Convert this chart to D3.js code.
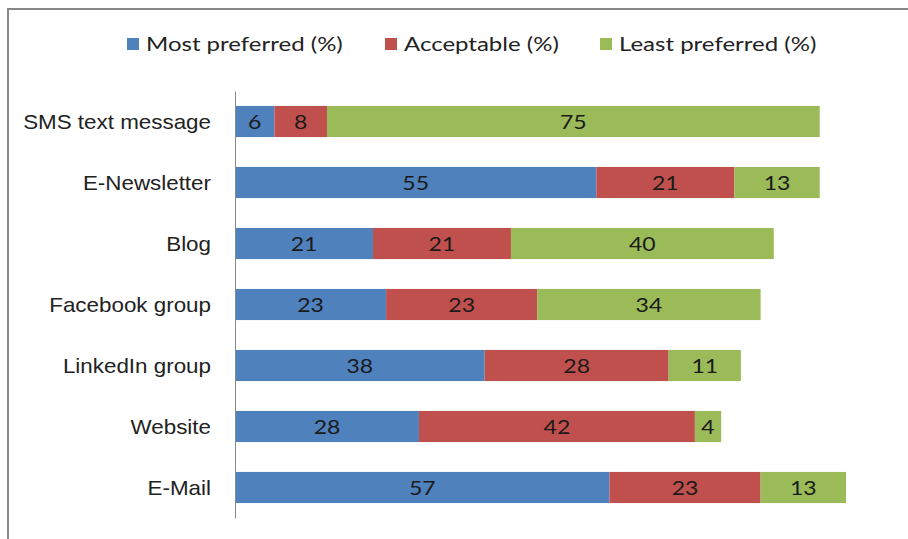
<!DOCTYPE html>
<html>
<head>
<meta charset="utf-8">
<script src="https://d3js.org/d3.v7.min.js"></script>
<style>
    body { margin: 0; background: #fff; }
    svg { font-family: Lato, "Open Sans", sans-serif; }
    .cat text { font-size: 20px; fill: #222; }
    .val { font-size: 20px; fill: #1a1a1a; }
    .legend text { font-size: 20px; fill: #222; }
</style>
</head>
<body>
<div id="chart"></div>
<script>
    var categories = ["SMS text message", "E-Newsletter", "Blog", "Facebook group", "LinkedIn group", "Website", "E-Mail"];
    var seriesNames = ["Most preferred (%)", "Acceptable (%)", "Least preferred (%)"];
    var mostPreferred = [6, 55, 21, 23, 38, 28, 57];
    var acceptable = [8, 21, 21, 23, 28, 42, 23];
    var leastPreferred = [75, 13, 40, 34, 11, 4, 13];
    var colors = ["#4F81BD", "#C0504D", "#9BBB59"];

    var width = 908, height = 539;
    // the source text is a little wide
    var catStretch = 1.12, legStretch = 1.2, valStretch = 1.15;

    var rows = categories.map(function(c, i) {
        return { cat: c, v: [mostPreferred[i], acceptable[i], leastPreferred[i]] };
    });

    var svg = d3.select("#chart").append("svg")
        .attr("width", width)
        .attr("height", height);

    // frame
    svg.append("rect")
        .attr("x", 8).attr("y", 9)
        .attr("width", 940).attr("height", 600)
        .attr("fill", "none")
        .attr("stroke", "#888")
        .attr("stroke-width", 2);

    var x = d3.scaleLinear().domain([0, 100]).range([235, 892]);
    var y = d3.scaleBand().domain(categories).range([91, 518])
        .paddingInner(0.49).paddingOuter(0.245);

    var stack = d3.stack().keys([0, 1, 2]).value(function(d, k) { return d.v[k]; });
    var layers = stack(rows);

    var g = svg.append("g");
    layers.forEach(function(layer, k) {
        g.selectAll(".s" + k)
            .data(layer).enter()
            .append("rect")
            .attr("x", d => x(d[0]))
            .attr("y", d => y(d.data.cat))
            .attr("width", d => x(d[1]) - x(d[0]))
            .attr("height", y.bandwidth())
            .attr("fill", colors[k]);
        g.selectAll(".t" + k)
            .data(layer).enter()
            .append("text")
            .attr("class", "val")
            .attr("transform", d => `translate(${(x(d[0]) + x(d[1])) / 2},${y(d.data.cat) + y.bandwidth() / 2}) scale(${valStretch},1)`)
            .attr("dy", "0.36em")
            .attr("text-anchor", "middle")
            .text(d => d.data.v[k]);
    });

    // category axis
    var yAxis = d3.axisLeft(y).tickSize(0).tickPadding(24);
    var ax = svg.append("g")
        .attr("class", "cat")
        .attr("transform", "translate(235,0)")
        .call(yAxis);
    ax.select(".domain").attr("stroke", "#888").attr("stroke-width", 1);
    ax.selectAll("text")
        .attr("font-family", null).attr("font-size", null)
        .attr("x", null)
        .attr("transform", `translate(-24,0) scale(${catStretch},1)`)
        .attr("dy", "0.36em");

    // legend
    var legendX = [127, 385, 600];
    var legend = svg.append("g").attr("class", "legend");
    seriesNames.forEach(function(n, k) {
        legend.append("rect")
            .attr("x", legendX[k]).attr("y", 38)
            .attr("width", 12).attr("height", 12)
            .attr("fill", colors[k]);
        legend.append("text")
            .attr("transform", `translate(${legendX[k] + 19},44) scale(${legStretch},1)`)
            .attr("dy", "0.36em")
            .text(n);
    });
</script>
</body>
</html>
